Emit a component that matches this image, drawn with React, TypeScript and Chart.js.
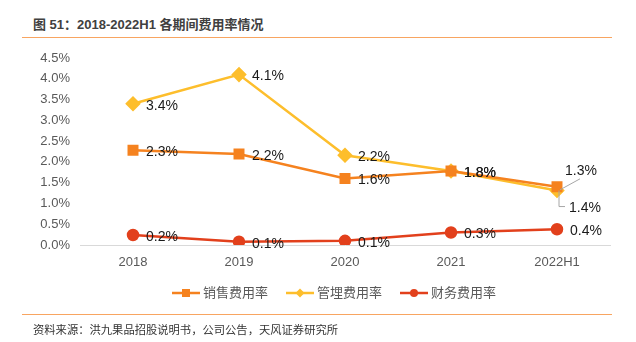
import React, { useEffect, useRef } from "react";
import { Chart, registerables } from "chart.js";

Chart.register(...registerables);

const categories = ["2018", "2019", "2020", "2021", "2022H1"];
const salesRate = [2.28, 2.19, 1.6, 1.78, 1.4];
const adminRate = [3.4, 4.1, 2.16, 1.78, 1.31];
const financeRate = [0.24, 0.08, 0.1, 0.3, 0.38];
const seriesNames = ["销售费用率", "管埋费用率", "财务费用率"];
const yTicks = [0, 0.5, 1, 1.5, 2, 2.5, 3, 3.5, 4, 4.5];

const colors = ["#F5821F", "#FDBE2C", "#E2401C"];
const FONT = "'Liberation Sans', Arial, 'Noto Sans CJK SC', sans-serif";

const labelPlugin = {
  id: "labels",
  afterDatasetsDraw(chart: any) {
    const ctx = chart.ctx;
    ctx.save();
    ctx.font = `14px ${FONT}`;
    ctx.fillStyle = "#1a1a1a";
    ctx.textBaseline = "middle";
    ctx.textAlign = "left";
    chart.data.datasets.forEach((ds: any, di: number) => {
      const meta = chart.getDatasetMeta(di);
      meta.data.forEach((pt: any, i: number) => {
        const txt = ds.data[i].toFixed(1) + "%";
        const last = i === ds.data.length - 1;
        if (last && di === 1) {
          ctx.strokeStyle = "#a6a6a6";
          ctx.lineWidth = 1;
          ctx.beginPath();
          ctx.moveTo(pt.x + 2, pt.y);
          ctx.lineTo(pt.x + 2, pt.y + 16);
          ctx.lineTo(pt.x + 8, pt.y + 16);
          ctx.stroke();
          ctx.fillText(txt, pt.x + 8, pt.y - 19);
          return;
        }
        if (last && di === 0) {
          ctx.strokeStyle = "#a6a6a6";
          ctx.lineWidth = 1;
          ctx.beginPath();
          ctx.moveTo(pt.x + 3, pt.y + 3);
          ctx.lineTo(pt.x + 23, pt.y - 8);
          ctx.stroke();
          ctx.fillText(txt, pt.x + 12, pt.y + 21);
          return;
        }
        ctx.fillText(txt, pt.x + 13, pt.y + 2);
      });
    });
    ctx.restore();
  },
};

const legendPlugin = {
  id: "customLegend",
  afterDraw(chart: any) {
    const ctx = chart.ctx;
    ctx.save();
    ctx.font = `13px ${FONT}`;
    ctx.textBaseline = "middle";
    const y = 293;
    let x = 172;
    chart.data.datasets.forEach((ds: any, di: number) => {
      ctx.strokeStyle = colors[di];
      ctx.fillStyle = colors[di];
      ctx.lineWidth = 2.5;
      ctx.beginPath();
      ctx.moveTo(x, y);
      ctx.lineTo(x + 28, y);
      ctx.stroke();
      const cx = x + 14;
      ctx.beginPath();
      if (di === 0) {
        ctx.rect(cx - 4, y - 4, 8, 8);
      } else if (di === 1) {
        ctx.moveTo(cx, y - 4.5);
        ctx.lineTo(cx + 4.5, y);
        ctx.lineTo(cx, y + 4.5);
        ctx.lineTo(cx - 4.5, y);
        ctx.closePath();
      } else {
        ctx.arc(cx, y, 4, 0, Math.PI * 2);
      }
      ctx.fill();
      ctx.fillStyle = "#595959";
      ctx.textAlign = "left";
      const t = ds.label;
      ctx.fillText(t, x + 31, y);
      x += 31 + ctx.measureText(t).width + 18;
    });
    ctx.restore();
  },
};

export default function App() {
  const ref = useRef<HTMLCanvasElement | null>(null);
  useEffect(() => {
    if (!ref.current) return;
    const mk = (label: string, data: number[], color: string, style: string, r: number) => ({
      label,
      data,
      borderColor: color,
      backgroundColor: color,
      pointBackgroundColor: color,
      pointBorderColor: color,
      pointStyle: style,
      pointRadius: r,
      borderWidth: 2.5,
      tension: 0,
    });
    const chart = new Chart(ref.current, {
      type: "line",
      data: {
        labels: categories,
        datasets: [
          mk(seriesNames[0], salesRate, colors[0], "rect", 6),
          mk(seriesNames[1], adminRate, colors[1], "rectRot", 6),
          mk(seriesNames[2], financeRate, colors[2], "circle", 5),
        ],
      },
      options: {
        animation: false,
        responsive: false,
        maintainAspectRatio: false,
        layout: { padding: { left: 0, right: 26, top: 58, bottom: 0 } },
        plugins: {
          legend: { display: false },
          tooltip: { enabled: false },
          title: { display: false },
        },
        scales: {
          x: {
            type: "category",
            offset: true,
            grid: { display: false, drawTicks: false },
            border: { display: true, color: "#d9d9d9", width: 1 },
            ticks: { color: "#595959", font: { size: 13, family: FONT }, padding: 10 },
            afterFit: (s: any) => {
              s.height = 97;
            },
          },
          y: {
            min: 0,
            max: 4.5,
            afterBuildTicks: (s: any) => {
              s.ticks = yTicks.map((v) => ({ value: v }));
            },
            grid: { display: false, drawTicks: false },
            border: { display: false },
            ticks: {
              color: "#595959",
              font: { size: 13, family: FONT },
              padding: 10,
              callback: (v: any) => Number(v).toFixed(1) + "%",
            },
            afterFit: (s: any) => {
              s.width = 80;
            },
          },
        },
      } as any,
      plugins: [labelPlugin, legendPlugin],
    });
    return () => chart.destroy();
  }, []);

  return (
    <div style={{ position: "absolute", left: 0, top: 0, width: 636, height: 342, background: "#fff", fontFamily: FONT }}>
      <div
        style={{
          position: "absolute",
          left: 33,
          top: 17,
          fontSize: 13,
          fontWeight: "bold",
          color: "#404040",
          whiteSpace: "nowrap",
          lineHeight: "16px",
        }}
      >
        图 51：2018-2022H1 各期间费用率情况
      </div>
      <div style={{ position: "absolute", left: 22, top: 37, width: 590, height: 0, borderTop: "1.5px solid #F8A561" }} />
      <canvas ref={ref} width={636} height={342} style={{ position: "absolute", left: 0, top: 0 }} />
      <div style={{ position: "absolute", left: 22, top: 314, width: 590, height: 0, borderTop: "1.5px solid #F8A561" }} />
      <div
        style={{
          position: "absolute",
          left: 33,
          top: 322,
          fontSize: 11.3,
          color: "#333",
          whiteSpace: "nowrap",
          lineHeight: "16px",
        }}
      >
        资料来源：洪九果品招股说明书，公司公告，天风证券研究所
      </div>
    </div>
  );
}
